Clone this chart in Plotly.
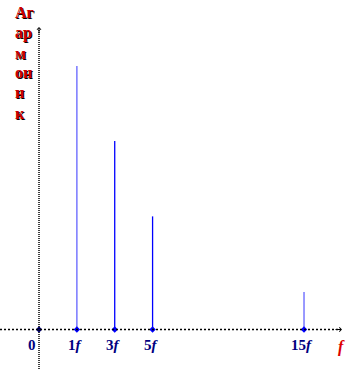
import plotly.graph_objects as go

# data
harmonics = ["1f", "3f", "5f", "15f"]
x_pos = [1, 2, 3, 7]          # positions along the (non-linear) frequency axis
amplitudes = [7, 5, 3, 1]
dash_styles = ["1px,1px", "solid", "solid", "1px,1px"]
tick_labels = ["0", "1f", "3f", "5f", "15f"]
tick_pos = [0, 1, 2, 3, 7]
y_title_lines = ["Аг", "ар", "м", "он", "н", "к"]

W, H = 349, 369
px_x = 37.86
px_y = 37.71
x0_px, y0_px = 39, 329.5
xr = [-x0_px / px_x, (W - x0_px) / px_x]
yr = [-(H - y0_px) / px_y, y0_px / px_y]

fig = go.Figure()

# axes as dotted lines
fig.add_shape(type="line", x0=xr[0], x1=(341 - x0_px) / px_x, y0=0, y1=0,
              line=dict(color="black", width=1.5, dash="2px,2px"))
fig.add_shape(type="line", x0=0, x1=0, y0=yr[0], y1=(y0_px - 29) / px_y,
              line=dict(color="black", width=1.5, dash="1px,1px"))

# stems
for h, xp, a, d in zip(harmonics, x_pos, amplitudes, dash_styles):
    fig.add_trace(go.Scatter(x=[xp, xp], y=[0, a], mode="lines",
                             line=dict(color="#0000ff", width=1.6 if d != "solid" else 1.3, dash=d),
                             showlegend=False, hoverinfo="skip"))

# base markers
fig.add_trace(go.Scatter(x=tick_pos, y=[0] * len(tick_pos), mode="markers",
                         marker=dict(symbol="diamond", size=5,
                                     color=["#000080"] + ["#0000ff"] * 4),
                         showlegend=False, hoverinfo="skip"))

# arrowheads
fig.add_annotation(x=(342 - x0_px) / px_x, y=0, ax=-8, ay=0, xref="x", yref="y",
                   showarrow=True, arrowhead=4, arrowsize=0.8, arrowwidth=1, arrowcolor="black", text="")
fig.add_annotation(x=0, y=(y0_px - 27) / px_y, ax=0, ay=8, xref="x", yref="y",
                   showarrow=True, arrowhead=4, arrowsize=0.8, arrowwidth=1, arrowcolor="black", text="")

# tick labels
for t, p in zip(tick_labels, tick_pos):
    txt = t if t == "0" else t.replace("f", "<i>f</i>")
    xs = -7 if t == "0" else (-1 if t != "15f" else -2)
    fig.add_annotation(x=p, y=0, xref="x", yref="y", text="<b>%s</b>" % txt, showarrow=False,
                       yanchor="top", yshift=-5, xshift=xs,
                       font=dict(family="Liberation Serif", size=15, color="#000080"))

# f axis label
fig.add_annotation(x=(341 - x0_px) / px_x, y=0, xref="x", yref="y", text="<b><i>f</i></b>",
                   showarrow=False, yanchor="top", yshift=-6,
                   font=dict(family="Liberation Serif", size=16, color="#dd0000"))

# y title lines (with shadow)
for i, line in enumerate(y_title_lines):
    ypx = 13 + i * 20
    for dx, dy, col in [(1, -1, "black"), (0, 0, "#cc0000")]:
        fig.add_annotation(x=13 / W, y=1 - ypx / H, xref="paper", yref="paper",
                           text="<b>%s</b>" % line, showarrow=False,
                           xanchor="left", yanchor="middle", xshift=dx, yshift=dy,
                           font=dict(family="Liberation Serif", size=16, color=col))

fig.update_layout(width=W, height=H, margin=dict(l=0, r=0, t=0, b=0),
                  paper_bgcolor="white", plot_bgcolor="white",
                  xaxis=dict(range=xr, visible=False, fixedrange=True),
                  yaxis=dict(range=yr, visible=False, fixedrange=True))

fig.write_html("out.html")
